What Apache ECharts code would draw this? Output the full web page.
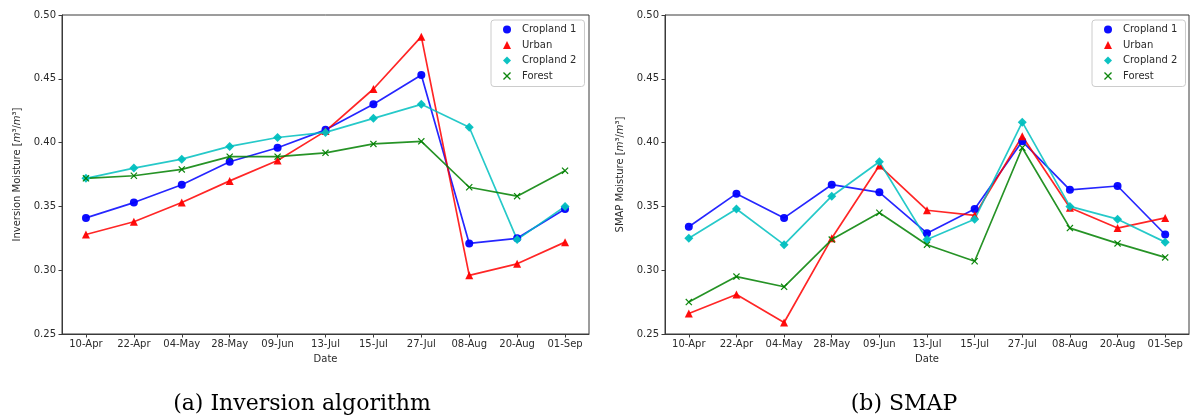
<!DOCTYPE html>
<html>
<head>
<meta charset="utf-8">
<script src="https://cdn.jsdelivr.net/npm/echarts@6/dist/echarts.min.js"></script>
<style>
  html, body { margin: 0; padding: 0; background: #ffffff; }
  #chart { width: 1192px; height: 418px; }
</style>
</head>
<body>
<div id="chart"></div>
<script>
// Observation dates shared by both panels
const dates = ['10-Apr', '22-Apr', '04-May', '28-May', '09-Jun', '13-Jul', '15-Jul', '27-Jul', '08-Aug', '20-Aug', '01-Sep'];

// Panel (a): inversion algorithm moisture, m3/m3
const invCropland1 = [0.341, 0.353, 0.367, 0.385, 0.396, 0.410, 0.430, 0.453, 0.321, 0.325, 0.348];
const invUrban     = [0.328, 0.338, 0.353, 0.370, 0.386, 0.409, 0.442, 0.483, 0.296, 0.305, 0.322];
const invCropland2 = [0.372, 0.380, 0.387, 0.397, 0.404, 0.408, 0.419, 0.430, 0.412, 0.324, 0.350];
const invForest    = [0.372, 0.374, 0.379, 0.389, 0.389, 0.392, 0.399, 0.401, 0.365, 0.358, 0.378];

// Panel (b): SMAP moisture, m3/m3
const smapCropland1 = [0.334, 0.360, 0.341, 0.367, 0.361, 0.329, 0.348, 0.401, 0.363, 0.366, 0.328];
const smapUrban     = [0.266, 0.281, 0.259, 0.325, 0.382, 0.347, 0.343, 0.405, 0.349, 0.333, 0.341];
const smapCropland2 = [0.325, 0.348, 0.320, 0.358, 0.385, 0.324, 0.340, 0.416, 0.350, 0.340, 0.322];
const smapForest    = [0.275, 0.295, 0.287, 0.324, 0.345, 0.320, 0.307, 0.396, 0.333, 0.321, 0.310];

// Y axis range and step
const yMin = 0.25, yMax = 0.50, yStep = 0.05;

const seriesNames = ['Cropland 1', 'Urban', 'Cropland 2', 'Forest'];
const captions = ['(a) Inversion algorithm', '(b) SMAP'];

const crossPath = 'path://M0,1.2L1.2,0L5,3.8L8.8,0L10,1.2L6.2,5L10,8.8L8.8,10L5,6.2L1.2,10L0,8.8L3.8,5Z';
const styles = {
  'Cropland 1': { color: '#0000ff', symbol: 'circle', size: 8 },
  'Urban':      { color: '#ff0000', symbol: 'triangle', size: 8 },
  'Cropland 2': { color: '#00bfbf', symbol: 'diamond', size: 9 },
  'Forest':     { color: '#008000', symbol: crossPath, size: 7 }
};

const FONT = 'DejaVu Sans';
const AXIS_COLOR = '#3a3a3a';
const TEXT_COLOR = '#2a2a2a';

function lineSeries(name, data, idx) {
  const s = styles[name];
  return {
    name: name,
    type: 'line',
    xAxisIndex: idx,
    yAxisIndex: idx,
    data: data,
    symbol: s.symbol,
    symbolSize: s.size,
    showAllSymbol: true,
    animation: false,
    lineStyle: { color: s.color, width: 1.7, opacity: 0.85 },
    itemStyle: { color: s.color, opacity: 0.95 },
    emphasis: { disabled: true }
  };
}

function xAxisCfg(idx) {
  return {
    type: 'category',
    gridIndex: idx,
    data: dates,
    boundaryGap: true,
    name: 'Date',
    nameLocation: 'middle',
    nameGap: 20,
    nameTextStyle: { fontFamily: FONT, fontSize: 10, color: TEXT_COLOR },
    axisLine: { show: true, lineStyle: { color: AXIS_COLOR, width: 1 } },
    axisTick: { show: true, alignWithLabel: true, length: 3.5, lineStyle: { color: AXIS_COLOR } },
    axisLabel: { interval: 0, margin: 5, fontFamily: FONT, fontSize: 10, color: TEXT_COLOR },
    splitLine: { show: false }
  };
}

function yAxisCfg(idx, label) {
  return {
    type: 'value',
    gridIndex: idx,
    min: yMin,
    max: yMax,
    interval: yStep,
    name: label + ' Moisture [{i|m}³/{i|m}³]',
    nameLocation: 'middle',
    nameGap: 40,
    nameRotate: 90,
    nameTextStyle: {
      fontFamily: FONT, fontSize: 10, color: TEXT_COLOR,
      rich: { i: { fontFamily: FONT, fontSize: 10, fontStyle: 'italic', color: TEXT_COLOR } }
    },
    axisLine: { show: true, lineStyle: { color: AXIS_COLOR, width: 1 } },
    axisTick: { show: true, length: 3.5, lineStyle: { color: AXIS_COLOR } },
    axisLabel: {
      margin: 6, fontFamily: FONT, fontSize: 10, color: TEXT_COLOR,
      formatter: v => v.toFixed(2)
    },
    splitLine: { show: false }
  };
}

function legendCfg(left) {
  return {
    orient: 'vertical',
    left: left,
    top: 20,
    data: seriesNames.map(n => ({ name: n, icon: styles[n].symbol })),
    itemWidth: 8,
    itemHeight: 8,
    itemGap: 2.5,
    padding: [3, 8, 4, 12],
    backgroundColor: 'rgba(255,255,255,0.85)',
    borderColor: '#cccccc',
    borderWidth: 1,
    borderRadius: 3,
    selectedMode: false,
    textStyle: { fontFamily: FONT, fontSize: 10, color: TEXT_COLOR, lineHeight: 13, padding: [0, 0, 0, 6] }
  };
}

const grids = [
  { left: 62, top: 15, width: 527, height: 319, show: true, borderColor: AXIS_COLOR, borderWidth: 1, backgroundColor: 'transparent' },
  { left: 665, top: 15, width: 524, height: 319, show: true, borderColor: AXIS_COLOR, borderWidth: 1, backgroundColor: 'transparent' }
];

const captionFont = '22px "DejaVu Serif"';

const option = {
  backgroundColor: '#ffffff',
  animation: false,
  grid: grids,
  xAxis: [xAxisCfg(0), xAxisCfg(1)],
  yAxis: [yAxisCfg(0, 'Inversion'), yAxisCfg(1, 'SMAP')],
  legend: [legendCfg(491), legendCfg(1092)],
  series: [
    lineSeries('Cropland 1', invCropland1, 0),
    lineSeries('Urban', invUrban, 0),
    lineSeries('Cropland 2', invCropland2, 0),
    lineSeries('Forest', invForest, 0),
    lineSeries('Cropland 1', smapCropland1, 1),
    lineSeries('Urban', smapUrban, 1),
    lineSeries('Cropland 2', smapCropland2, 1),
    lineSeries('Forest', smapForest, 1)
  ],
  graphic: [
    { type: 'text', x: 302, y: 404, style: { text: captions[0], font: captionFont, fill: '#000', align: 'center', verticalAlign: 'middle' } },
    { type: 'text', x: 904, y: 404, style: { text: captions[1], font: captionFont, fill: '#000', align: 'center', verticalAlign: 'middle' } }
  ]
};

const chart = echarts.init(document.getElementById('chart'), null, { renderer: 'canvas' });
chart.setOption(option);
</script>
</body>
</html>
